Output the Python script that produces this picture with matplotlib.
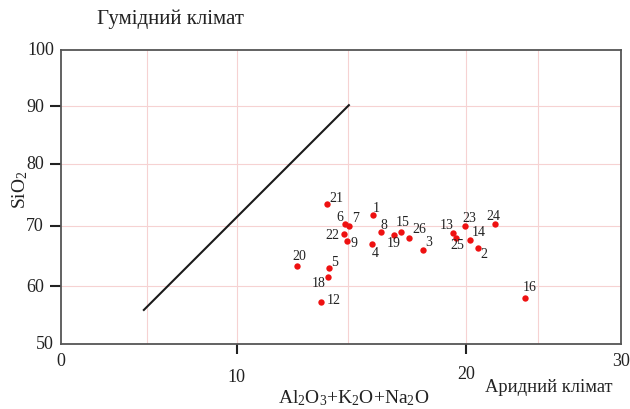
import numpy as np
import matplotlib
matplotlib.use("Agg")
import matplotlib.pyplot as plt

plt.rcParams['font.family'] = ['Liberation Serif', 'DejaVu Serif']
plt.rcParams['mathtext.fontset'] = 'custom'
plt.rcParams['mathtext.rm'] = 'Liberation Serif'
plt.rcParams['mathtext.it'] = 'Liberation Serif:italic'
plt.rcParams['mathtext.bf'] = 'Liberation Serif:bold'

# ---- data ----
sample_ids = ["1", "2", "3", "4", "5", "6", "7", "8", "9", "12", "13", "14", "15",
              "16", "18", "19", "20", "21", "22", "23", "24", "25", "26"]
al_k_na = [16.08, 20.87, 18.19, 16.04, 14.16, 14.87, 15.07, 16.39, 14.96, 13.81,
           19.46, 20.30, 17.25, 24.08, 14.11, 16.98, 12.71, 14.06, 14.82, 19.98,
           22.0, 19.59, 17.61]
sio2 = [71.7, 66.3, 66.0, 66.9, 63.0, 70.2, 70.0, 69.0, 67.4, 57.2,
        68.8, 67.7, 68.9, 58.0, 61.5, 68.5, 63.3, 73.5, 68.6, 69.9,
        70.2, 67.9, 68.0]
boundary_x = [4.8, 15.05]
boundary_y = [55.9, 90.2]
x_tick_vals = [0, 10, 20, 30]
y_tick_vals = [50, 60, 70, 80, 90, 100]
x_grid_vals = [5, 10, 15, 20, 25]
y_grid_vals = [60, 70, 80, 90]

# ---- label offsets (pixels) ----
label_off = {"21": (10, 7), "1": (3, 8), "6": (-5, 8), "7": (6, 8), "22": (-11, 0),
             "9": (7, -1), "8": (3, 7), "4": (3, -8), "20": (3, 11), "5": (6, 7),
             "18": (-9, -5), "12": (12, 3), "15": (2, 11), "19": (-1, -8),
             "26": (10, 9), "3": (6, 8), "13": (-6, 8), "25": (1, -6),
             "23": (4, 9), "14": (9, 8), "24": (-1, 9), "2": (6, -5), "16": (5, 11)}

# ---- axis scale (piecewise, matching the original drawing) ----
W, H = 630, 410
L, R, T, B = 61, 621, 50.7, 345
xk = [0, 5, 10, 15, 20, 25, 30]
xp = [0, 86.3, 175.5, 286.7, 404.7, 477.3, 560]
yk = [50, 60, 70, 80, 90, 100]
yp = [0, 57.7, 118.3, 180, 237.7, 294.3]

def xf(v):
    return np.interp(v, xk, xp)

def xi(p):
    return np.interp(p, xp, xk)

def yf(v):
    return np.interp(v, yk, yp)

def yi(p):
    return np.interp(p, yp, yk)

fig = plt.figure(figsize=(W / 100, H / 100), dpi=100)
ax = fig.add_axes([L / W, (H - B) / H, (R - L) / W, (B - T) / H])
ax.set_xscale('function', functions=(xf, xi))
ax.set_yscale('function', functions=(yf, yi))
ax.set_xlim(0, 30)
ax.set_ylim(50, 100)

grid_c = '#f6d2d2'
for gx in x_grid_vals:
    ax.axvline(gx, color=grid_c, lw=0.8, zorder=0)
for gy in y_grid_vals:
    ax.axhline(gy, color=grid_c, lw=0.8, zorder=0)

ax.plot(boundary_x, boundary_y, color='#1a1a1a', lw=1.5, zorder=2)
ax.scatter(al_k_na, sio2, s=21, color='#ee1111', zorder=3, linewidths=0)

for sid, xv, yv in zip(sample_ids, al_k_na, sio2):
    dx, dy = label_off[sid]
    ax.annotate(sid, (xv, yv), xytext=(dx, dy), textcoords='offset pixels',
                ha='center', va='center', fontsize=10, color='#222222')

for sp in ax.spines.values():
    sp.set_color('#555555')
    sp.set_linewidth(1.3)

# ticks
ax.set_xticks([10, 20])
ax.set_yticks([60, 70, 80, 90])
ax.tick_params(axis='x', direction='out', length=7.5, width=1.5, color='#222222',
               labelbottom=False)
ax.tick_params(axis='y', direction='out', length=8, width=1.5, color='#222222',
               labelleft=False)

# tick labels
x_lab_dy = {0: -17, 10: -33, 20: -30, 30: -17}
for v in x_tick_vals:
    ax.annotate(str(v), (v, 50), xytext=(0, x_lab_dy[v]), textcoords='offset pixels',
                ha='center', va='center', fontsize=13, color='#222222',
                annotation_clip=False)
for v in y_tick_vals:
    dx = -7 if v in (50, 100) else -17
    ax.annotate(str(v), (0, v), xytext=(dx, 0), textcoords='offset pixels',
                ha='right', va='center', fontsize=13, color='#222222',
                annotation_clip=False)

fig.text(170 / W, 1 - 19 / H, 'Гумідний клімат', ha='center', va='center',
         fontsize=15, color='#222222')
fig.text(549 / W, 1 - 388 / H, 'Аридний клімат', ha='center', va='center',
         fontsize=13.3, color='#222222')
fig.text(354 / W, 1 - 398 / H, r'Al$_2$O$_3$+K$_2$O+Na$_2$O', ha='center',
         va='center', fontsize=14, color='#222222')
fig.text(20 / W, 1 - 190 / H, r'SiO$_2$', ha='center', va='center', rotation=90,
         fontsize=14, color='#222222')

fig.savefig('out.png', dpi=100)
